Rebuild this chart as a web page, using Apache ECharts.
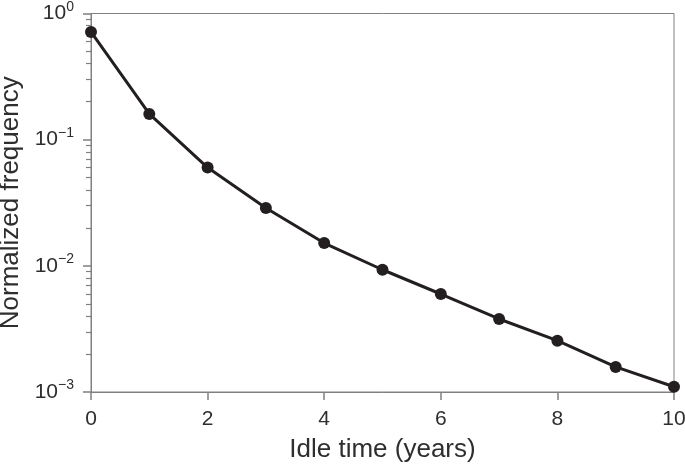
<!DOCTYPE html>
<html><head><meta charset="utf-8">
<script src="https://cdn.jsdelivr.net/npm/echarts@6/dist/echarts.min.js"></script>
<style>html,body{margin:0;padding:0;background:#fff}#c{width:685px;height:464px}</style>
</head><body><div id="c"></div>
<script>
const idleYears = [0,1,2,3,4,5,6,7,8,9,10];
const normFreq = [0.714,0.160,0.0601,0.0287,0.01516,0.00931,0.00598,0.00379,0.00255,0.00158,0.00110];
const xTicks = [0,2,4,6,8,10];
const yDecades = [1e-3,1e-2,1e-1,1];
const yMinor = [];
for (let d of [1e-3,1e-2,1e-1]) for (let m=2;m<=9;m++) yMinor.push(m*d);

const chart = echarts.init(document.getElementById('c'));
const font = 'Helvetica, "Liberation Sans", Arial, sans-serif';
const axisCol = '#808080';
const txt = '#2e2e2e';
chart.setOption({
  animation:false,
  grid:{left:91,right:11,top:13.5,bottom:72,show:true,borderColor:axisCol,borderWidth:1,
    containLabel:false,outerBoundsMode:'none'},
  xAxis:{type:'value',min:0,max:10,interval:2,
    name:'Idle time (years)',nameLocation:'middle',nameGap:45,
    nameTextStyle:{fontSize:26,color:txt,fontFamily:font},
    axisLine:{lineStyle:{color:axisCol,width:1}},
    axisTick:{show:true,length:8,lineStyle:{color:axisCol,width:1.5},customValues:xTicks},
    axisLabel:{fontSize:21,color:txt,fontFamily:font,margin:17,customValues:xTicks},
    splitLine:{show:false}},
  yAxis:[{type:'log',logBase:10,min:1e-3,max:1,
    name:'Normalized frequency',nameLocation:'middle',nameGap:64,
    nameTextStyle:{fontSize:26,color:txt,fontFamily:font},
    axisLine:{show:true,lineStyle:{color:axisCol,width:1}},
    axisTick:{show:true,length:8,lineStyle:{color:axisCol,width:1.5},customValues:yDecades},
    axisLabel:{fontSize:21,color:txt,fontFamily:font,margin:17,customValues:yDecades,
      formatter:v=>'10{s|'+(Math.round(Math.log10(v))===0?'0':'\u2212'+(-Math.round(Math.log10(v))))+'}',
      rich:{s:{fontSize:14,color:txt,fontFamily:font,verticalAlign:'top',padding:[0,0,13,0]}}},
    splitLine:{show:false}},
   {type:'log',logBase:10,min:1e-3,max:1,position:'left',
    axisLine:{show:false},
    axisTick:{show:true,length:5,lineStyle:{color:axisCol,width:1.2},customValues:yMinor},
    axisLabel:{show:false},splitLine:{show:false}}],
  series:[{type:'line',data:idleYears.map((x,i)=>[x,normFreq[i]]),
    lineStyle:{color:'#231f20',width:3},itemStyle:{color:'#231f20'},
    symbol:'circle',symbolSize:12,clip:false}]
});
</script></body></html>
